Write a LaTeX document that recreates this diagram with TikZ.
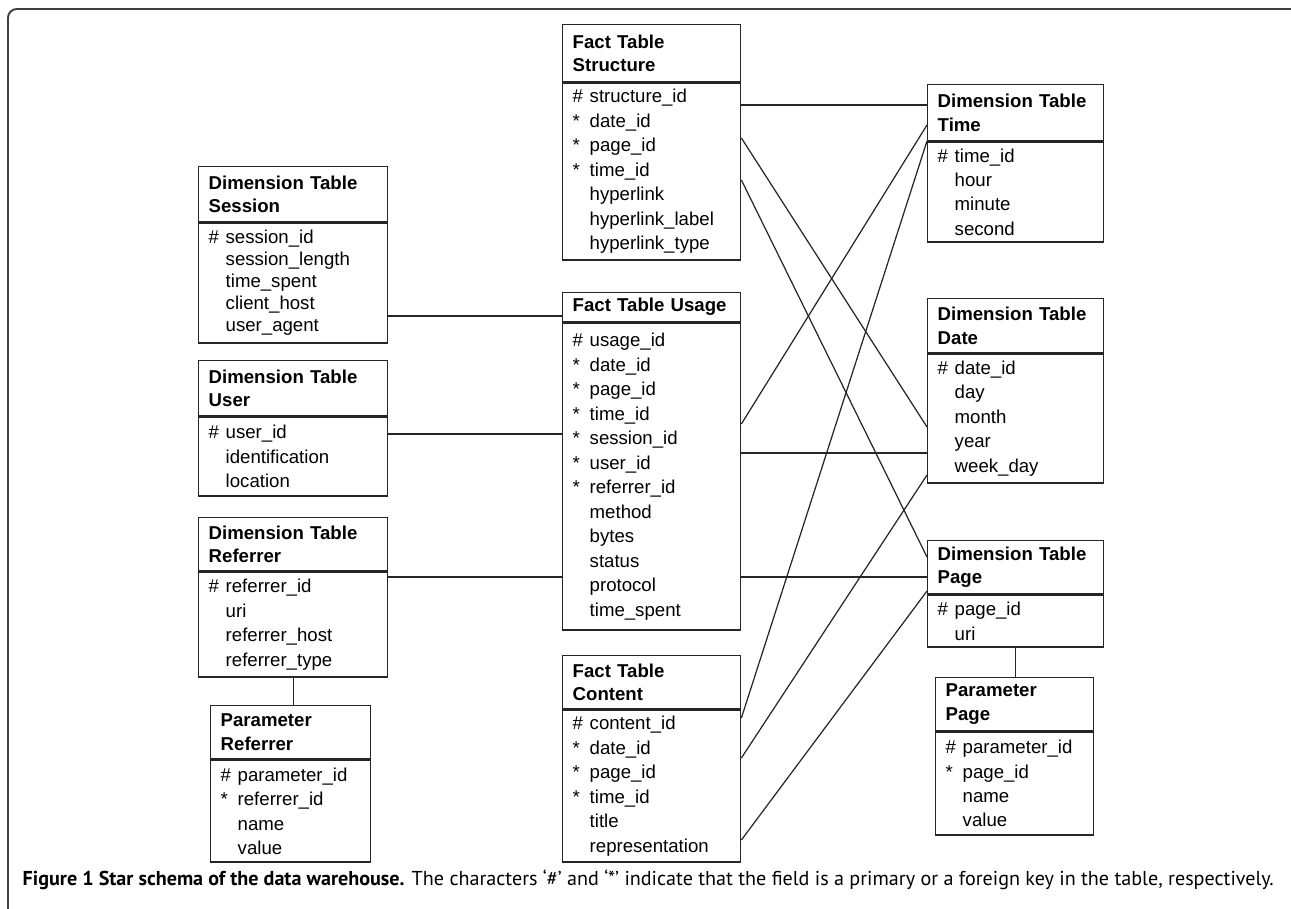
\documentclass[tikz,border=0pt]{standalone}
\usepackage{fontspec}
\setmainfont{Liberation Sans}
\newfontfamily\capfont{PT Sans}
\newcommand{\pkey}[1]{\makebox[0.34cm][l]{\#}#1}
\newcommand{\fkey}[1]{\makebox[0.34cm][l]{*}#1}
\newcommand{\nkey}[1]{\hspace*{0.34cm}#1}

\begin{document}
\begin{tikzpicture}[x=0.02cm, y=-0.02cm, line width=0.8pt]
    \tikzstyle{tabtitle} = [draw=black!85, anchor=north west, align=left, inner xsep=0.2cm, inner ysep=1pt,
      font=\fontsize{10.6pt}{0.47cm}\selectfont\bfseries]
    \tikzstyle{tabbody} = [draw=black!85, anchor=north, align=left, inner xsep=0.2cm, inner ysep=1pt,
      font=\fontsize{10.6pt}{0.49cm}\selectfont]
    \tikzstyle{link} = [draw=black!85, line width=0.7pt]
    \useasboundingbox (0,0) rectangle (1291,909);
    \draw[black!75, line width=1.1pt, rounded corners=5pt] (8,909) -- (8,9) -- (1291,9);

    % dimension tables on the left
    \node[tabtitle, text width=3.38cm, minimum height=1.1cm] (session-title) at (198,166) {Dimension Table\\Session};
    \node[tabbody, text width=3.38cm, minimum height=2.4cm, font=\fontsize{10.6pt}{0.44cm}\selectfont] (session) at (session-title.south)
      {\pkey{session\_id}\\\nkey{session\_length}\\\nkey{time\_spent}\\\nkey{client\_host}\\\nkey{user\_agent}};
    \node[tabtitle, text width=3.38cm, minimum height=1.1cm] (user-title) at (198,360) {Dimension Table\\User};
    \node[tabbody, text width=3.38cm, minimum height=1.58cm] (user) at (user-title.south)
      {\pkey{user\_id}\\\nkey{identification}\\\nkey{location}};
    \node[tabtitle, text width=3.38cm, minimum height=1.06cm] (referrer-title) at (198,517) {Dimension Table\\Referrer};
    \node[tabbody, text width=3.38cm, minimum height=2.1cm] (referrer) at (referrer-title.south)
      {\pkey{referrer\_id}\\\nkey{uri}\\\nkey{referrer\_host}\\\nkey{referrer\_type}};
    \node[tabtitle, text width=2.8cm, minimum height=1.06cm] (parref-title) at (210,705) {Parameter\\Referrer};
    \node[tabbody, text width=2.8cm, minimum height=2.04cm] (parref) at (parref-title.south)
      {\pkey{parameter\_id}\\\fkey{referrer\_id}\\\nkey{name}\\\nkey{value}};

    % fact tables
    \node[tabtitle, text width=3.16cm, minimum height=1.14cm] (structure-title) at (562,24) {Fact Table\\Structure};
    \node[tabbody, text width=3.16cm, minimum height=3.54cm] (structure) at (structure-title.south)
      {\pkey{structure\_id}\\\fkey{date\_id}\\\fkey{page\_id}\\\fkey{time\_id}\\\nkey{hyperlink}\\\nkey{hyperlink\_label}\\\nkey{hyperlink\_type}};
    \node[tabtitle, text width=3.16cm, minimum height=0.58cm] (usage-title) at (562,292) {Fact Table Usage};
    \node[tabbody, text width=3.16cm, minimum height=6.14cm] (usage) at (usage-title.south)
      {\pkey{usage\_id}\\\fkey{date\_id}\\\fkey{page\_id}\\\fkey{time\_id}\\\fkey{session\_id}\\\fkey{user\_id}\\\fkey{referrer\_id}\\
       \nkey{method}\\\nkey{bytes}\\\nkey{status}\\\nkey{protocol}\\\nkey{time\_spent}};
    \node[tabtitle, text width=3.16cm, minimum height=1.06cm] (content-title) at (562,655) {Fact Table\\Content};
    \node[tabbody, text width=3.16cm, minimum height=3.04cm] (content) at (content-title.south)
      {\pkey{content\_id}\\\fkey{date\_id}\\\fkey{page\_id}\\\fkey{time\_id}\\\nkey{title}\\\nkey{representation}};

    % dimension tables on the right
    \node[tabtitle, text width=3.12cm, minimum height=1.12cm] (time-title) at (927,84) {Dimension Table\\Time};
    \node[tabbody, text width=3.12cm, minimum height=2.0cm] (time) at (time-title.south)
      {\pkey{time\_id}\\\nkey{hour}\\\nkey{minute}\\\nkey{second}};
    \node[tabtitle, text width=3.12cm, minimum height=1.08cm] (date-title) at (927,298) {Dimension Table\\Date};
    \node[tabbody, text width=3.12cm, minimum height=2.58cm] (date) at (date-title.south)
      {\pkey{date\_id}\\\nkey{day}\\\nkey{month}\\\nkey{year}\\\nkey{week\_day}};
    \node[tabtitle, text width=3.12cm, minimum height=1.06cm] (page-title) at (927,540) {Dimension Table\\Page};
    \node[tabbody, text width=3.12cm, minimum height=1.04cm] (page) at (page-title.south)
      {\pkey{page\_id}\\\nkey{uri}};
    \node[tabtitle, text width=2.76cm, minimum height=1.06cm] (parpage-title) at (935,677) {Parameter\\Page};
    \node[tabbody, text width=2.76cm, minimum height=2.06cm] (parpage) at (parpage-title.south)
      {\pkey{parameter\_id}\\\fkey{page\_id}\\\nkey{name}\\\nkey{value}};

    % links
    \draw[link] (session.east |- 0,316) -- (usage.west |- 0,316);
    \draw[link] (user.east |- 0,434) -- (usage.west |- 0,434);
    \draw[link] (referrer.east |- 0,577) -- (usage.west |- 0,577);
    \draw[link] (referrer.south) -- (referrer.south |- parref-title.north);
    \draw[link] (page.south) -- (page.south |- parpage-title.north);
    \draw[link] (structure.east |- 0,105) -- (time-title.west |- 0,105);
    \draw[link] (structure.east |- 0,138) -- (date.west |- 0,427);
    \draw[link] (structure.east |- 0,180) -- (page-title.west |- 0,557);
    \draw[link] (usage.east |- 0,424) -- (time-title.west |- 0,125);
    \draw[link] (usage.east |- 0,453) -- (date.west |- 0,453);
    \draw[link] (usage.east |- 0,577) -- (page-title.west |- 0,577);
    \draw[link] (content.east |- 0,718) -- (time.west |- 0,141);
    \draw[link] (content.east |- 0,758) -- (date.west |- 0,475);
    \draw[link] (content.east |- 0,840) -- (page-title.west |- 0,591);

    % caption
    \node[anchor=west, inner sep=0pt, font=\capfont\fontsize{11.45pt}{13pt}\selectfont] (caption) at (22,880)
      {\textbf{Figure 1 Star schema of the data warehouse.} The characters ‘\#’ and ‘*’ indicate that the field is a primary or a foreign key in the table, respectively.};
\end{tikzpicture}
\end{document}
